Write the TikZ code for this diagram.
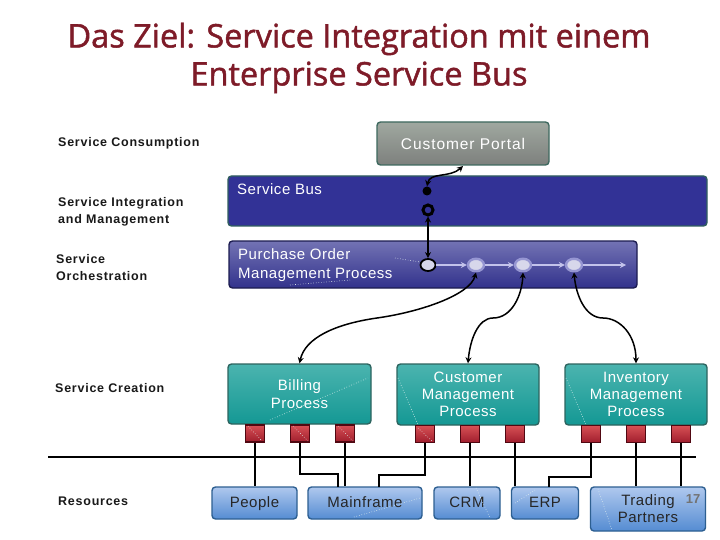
\documentclass[tikz,border=0pt]{standalone}
\usepackage{fontspec}
\setmainfont{Liberation Sans}
\newfontfamily\titlefont[FakeBold=1.4]{Open Sans}
\newfontfamily\boxfont[LetterSpace=3.5]{Liberation Sans}
\newfontfamily\portalfont[LetterSpace=6]{Liberation Sans}
\newfontfamily\sidefont[LetterSpace=6]{Liberation Sans}
\usetikzlibrary{arrows.meta,shapes.geometric}
\definecolor{titlered}{HTML}{7E1B28}
\tikzset{
  x=1pt,y=-1pt,
  boxbase/.style={draw,line width=1.4pt,rounded corners=3.5pt,inner sep=0pt,align=center,shade,shading angle=315,text=white,font=\boxfont\fontsize{15}{17}\selectfont},
  portalbox/.style={boxbase,font=\portalfont\fontsize{15.5}{17}\selectfont,draw={rgb,255:red,62;green,105;blue,95},top color={rgb,255:red,160;green,168;blue,160},bottom color={rgb,255:red,125;green,128;blue,125}},
  busbox/.style={boxbase,shade=none,draw={rgb,255:red,48;green,95;blue,95},fill={rgb,255:red,50;green,50;blue,150}},
  pobox/.style={boxbase,draw={rgb,255:red,28;green,28;blue,80},top color={rgb,255:red,115;green,115;blue,180},bottom color={rgb,255:red,50;green,50;blue,140}},
  tealbox/.style={boxbase,draw={rgb,255:red,45;green,100;blue,95},top color={rgb,255:red,75;green,180;blue,175},bottom color={rgb,255:red,20;green,152;blue,148}},
  redbox/.style={draw={rgb,255:red,80;green,8;blue,18},line width=1.6pt,inner sep=0pt,shade,shading angle=315,top color={rgb,255:red,215;green,80;blue,85},bottom color={rgb,255:red,160;green,30;blue,45},minimum width=19pt,minimum height=17pt},
  resbox/.style={boxbase,text=black!85,draw={rgb,255:red,45;green,95;blue,145},top color={rgb,255:red,175;green,200;blue,238},bottom color={rgb,255:red,85;green,140;blue,210}},
  oneline/.style={text height=11pt,text depth=3pt},
  sidelabel/.style={anchor=west,align=left,inner sep=0pt,font=\sidefont\bfseries\fontsize{12.5}{17}\selectfont,text=black!90},
  inlabel/.style={anchor=west,align=left,inner sep=0pt,text=white,font=\boxfont\fontsize{15}{19}\selectfont},
  wire/.style={draw=black,line width=1.5pt},
  link/.style={draw=black,line width=1.5pt,{Stealth[length=6pt,width=6pt]}-{Stealth[length=6pt,width=6pt]}},
  flow/.style={draw={rgb,255:red,195;green,195;blue,235},line width=1.7pt,-{Stealth[length=6pt,width=6pt]}},
  stepnode/.style={ellipse,inner sep=0pt,minimum width=16pt,minimum height=12.5pt,fill={rgb,255:red,215;green,215;blue,235},draw={rgb,255:red,150;green,150;blue,210},line width=2.4pt},
  speck/.style={draw=white!90!teal,line width=.6pt,dotted}
}
\begin{document}
\begin{tikzpicture}
\useasboundingbox (0,0) rectangle (720,540);
\fill[white] (0,0) rectangle (720,540);
% title
\node[inner sep=0pt,align=center,text=titlered,font=\titlefont\fontsize{32.5}{38}\selectfont] (title) at (359,58) {Das Ziel: Service Integration mit einem\\Enterprise Service Bus};
% side labels
\node[sidelabel] (l1) at (58,143) {Service Consumption};
\node[sidelabel] (l2) at (58,211.5) {Service Integration\\and Management};
\node[sidelabel] (l3) at (56,267.5) {Service\\Orchestration};
\node[sidelabel] (l4) at (55,388.5) {Service Creation};
\node[sidelabel] (l5) at (58,501.5) {Resources};
% upper layers
\node[portalbox,minimum width=172pt,minimum height=43pt] (portal) at (463,143.5) {Customer Portal};
\node[busbox,minimum width=479pt,minimum height=50pt] (bus) at (467.5,201) {};
\node[inlabel] (buslabel) at (237,189) {Service Bus};
\node[pobox,minimum width=408pt,minimum height=47pt] (po) at (433,264.5) {};
\node[inlabel] (polabel) at (238,265.5) {Purchase Order\\Management Process};
% process row
\node[tealbox,minimum width=143pt,minimum height=60pt,font=\boxfont\fontsize{15}{18}\selectfont] (billing) at (299.5,394) {Billing\\Process};
\node[tealbox,minimum width=142pt,minimum height=61pt] (customer) at (468,394.5) {Customer\\Management\\Process};
\node[tealbox,minimum width=142pt,minimum height=61pt] (inventory) at (636,394.5) {Inventory\\Management\\Process};
% red ports
\foreach \n/\cx/\cy in {a/255/433.5,b/300/433.5,c/345/433.5,d/425/434,e/470/434,f/515/434,g/591/434,h/636/434,i/681/434}
  \node[redbox] (sq\n) at (\cx,\cy) {};
% resources
\node[resbox,oneline,minimum width=85pt,minimum height=32pt] (people) at (254.5,503) {People};
\node[resbox,oneline,minimum width=114pt,minimum height=32pt] (mainframe) at (365,503) {Mainframe};
\node[resbox,oneline,minimum width=66pt,minimum height=32pt] (crm) at (467,503) {CRM};
\node[resbox,oneline,minimum width=67pt,minimum height=32pt] (erp) at (545,503) {ERP};
\node[resbox,minimum width=115pt,minimum height=44pt] (trading) at (648,509) {Trading\\Partners};
\node[inner sep=0pt,text=black!55,font=\bfseries\fontsize{13}{14}\selectfont] (pageno) at (693,499) {17};
% separator
\coordinate (sepl) at (48,457);
\coordinate (sepr) at (696,457);
\draw[wire] (sepl) -- (sepr);
% port wires
\draw[wire] (sqa.south) -- (sqa.south |- people.north);
\draw[wire] (sqb.south) |- (338,474) -- (338,487);
\draw[wire] (sqc.south) -- (sqc.south |- mainframe.north);
\draw[wire] (sqd.south) |- (379,475) -- (379,487);
\draw[wire] (sqe.south) -- (sqe.south |- crm.north);
\draw[wire] (sqf.south) -- (sqf.south |- erp.north);
\draw[wire] (sqg.south) |- (549,477) -- (549,487);
\draw[wire] (sqh.south) -- (sqh.south |- trading.north);
\draw[wire] (sqi.south) -- (sqi.south |- trading.north);
% orchestration
\node[circle,fill=black,inner sep=0pt,minimum size=9pt] (dot) at (427,191) {};
\node[circle,draw=black,line width=3pt,fill={rgb,255:red,50;green,50;blue,150},inner sep=0pt,minimum size=10pt] (ring) at (428,210) {};
\coordinate (flowend) at (626,265);
\node[stepnode] (s1) at (476,265) {};
\node[stepnode] (s2) at (523,265) {};
\node[stepnode] (s3) at (574,265) {};
\node[ellipse,draw=black,line width=1.8pt,fill={rgb,255:red,215;green,215;blue,235},inner sep=0pt,minimum width=15pt,minimum height=12pt] (s0) at (428,265) {};
\draw[flow] (s0) -- (s1);
\draw[flow] (s1) -- (s2);
\draw[flow] (s2) -- (s3);
\draw[flow] (s3) -- (flowend);
\draw[link] (ring.south) -- (s0.north);
\draw[link] (dot.north) .. controls (430,172) and (450,178) .. (463,166);
\draw[link] (s1.south) .. controls (470,295) and (420,312) .. (377,318) .. controls (335,324) and (305,338) .. (billing.north);
\draw[link] (s2.south) .. controls (522,295) and (512,318) .. (493,318) .. controls (478,318) and (470,340) .. (customer.north);
\draw[link] (s3.south) .. controls (576,295) and (585,318) .. (603,318) .. controls (620,318) and (636,335) .. (inventory.north);
% white specks of the reference
\draw[speck] (270,420) -- (368,378);
\draw[speck] (398,378) -- (418,425);
\draw[speck] (566,378) -- (586,425);
\draw[speck] (248,426) -- (262,441);
\draw[speck] (293,426) -- (308,441);
\draw[speck] (338,426) -- (353,441);
\draw[speck] (418,428) -- (432,441);
\draw[speck] (354,517) -- (420,498);
\draw[speck] (476,488) -- (490,518);
\draw[speck] (598,489) -- (612,530);
\draw[speck] (515,503) -- (535,490);
\draw[speck] (395,258) -- (420,262);
\draw[speck] (290,285) -- (350,280);
\end{tikzpicture}
\end{document}
